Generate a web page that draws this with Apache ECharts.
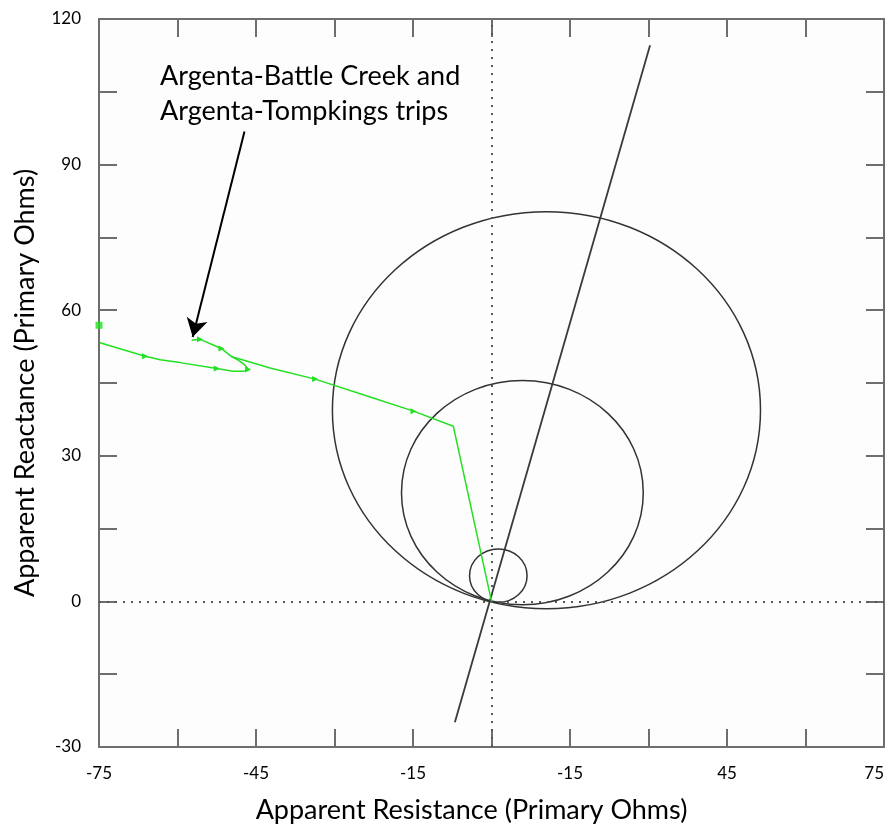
<!DOCTYPE html>
<html>
<head>
<meta charset="utf-8">
<script src="https://cdn.jsdelivr.net/npm/echarts@6/dist/echarts.min.js"></script>
<style>
html,body{margin:0;padding:0;background:#fff;}
#chart{width:888px;height:829px;}
</style>
</head>
<body>
<div id="chart"></div>
<script>
// ---- data ----
const xTickValues = [-75, -45, -15, 15, 45, 75];
const xTickLabels = ['-75', '-45', '-15', '-15', '45', '75'];
const yTickValues = [-30, 0, 30, 60, 90, 120];
const yTickLabels = ['-30', '0', '30', '60', '90', '120'];

// characteristic circles (center R, center X, radius)
const circleCx = [10.5, 5.9, 1.3];
const circleCy = [39.4, 22.4, 5.3];
const circleR  = [40.9, 23.1, 5.5];

// line-angle line
const angleLineX = [-7.0, 30.3];
const angleLineY = [-24.9, 114.6];

// trajectory A (left loop)
const trajAX = [-74.8, -66.2, -63.3, -59.5, -52.5, -49.4, -47.4, -46.5, -47.1, -48.4, -49.6, -51.6, -55.7, -57.3];
const trajAY = [53.3, 50.5, 49.8, 49.2, 48.0, 47.4, 47.4, 47.8, 48.7, 49.7, 50.4, 52.1, 54.0, 53.8];
// trajectory B (from origin)
const trajBX = [0.0, -7.3, -14.9, -22.9, -33.7, -42.3, -49.6];
const trajBY = [0.0, 36.1, 39.2, 42.0, 45.8, 48.1, 50.4];
// points at left edge
const edgeX = [-75.0, -75.1];
const edgeY = [56.9, 55.3];

const annotationLines = ['Argenta-Battle Creek and', 'Argenta-Tompkings trips'];
const annotationArrowFrom = [-47.2, 96.8];
const annotationArrowTo = [-57.1, 54.5];

// ---- chart ----
const FONT = 'Lato, "Open Sans", sans-serif';
const AX = '#6e6e6e';
const chart = echarts.init(document.getElementById('chart'), null, {renderer: 'canvas'});

function zip(xs, ys) { return xs.map((x, i) => [x, ys[i]]); }
function labelFor(vals, labels) {
  return function (v) {
    const i = vals.findIndex(t => Math.abs(t - v) < 1e-6);
    return i >= 0 ? labels[i] : '';
  };
}

const arrowA = [1, 4, 7, 11, 12];
const arrowB = [2, 4];
function withArrows(pts, idx) {
  return pts.map((p, i) => idx.indexOf(i) >= 0
    ? {value: p, symbol: 'triangle', symbolSize: 6, symbolRotate: -90}
    : {value: p, symbol: 'none'});
}

const baseX = {
  type: 'value', min: -75, max: 75, interval: 15,
  splitLine: {show: false},
  axisLine: {show: true, onZero: false, lineStyle: {color: AX, width: 2}},
  axisTick: {show: true, inside: true, length: 18, lineStyle: {color: AX, width: 2}}
};
const baseY = {
  type: 'value', min: -30, max: 120, interval: 15,
  splitLine: {show: false},
  axisLine: {show: true, onZero: false, lineStyle: {color: AX, width: 2}},
  axisTick: {show: true, inside: true, length: 18, lineStyle: {color: AX, width: 2}}
};

chart.setOption({
  animation: false,
  backgroundColor: '#ffffff',
  grid: {left: 99, right: 4, top: 19, bottom: 82, show: true, backgroundColor: '#fdfdfd', borderWidth: 0,
         containLabel: false, outerBoundsMode: 'none'},
  xAxis: [
    Object.assign({}, baseX, {
      position: 'bottom',
      name: 'Apparent Resistance (Primary Ohms)', nameLocation: 'middle', nameGap: 50,
      nameTextStyle: {fontFamily: FONT, fontSize: 27, color: '#000', padding: [0, 40, 0, 0]},
      axisLabel: {show: true, margin: 18, fontFamily: FONT, fontSize: 17, color: '#000',
                  formatter: labelFor(xTickValues, xTickLabels), showMinLabel: true, showMaxLabel: true,
                  alignMaxLabel: 'right'}
    }),
    Object.assign({}, baseX, {position: 'top', axisLabel: {show: false}})
  ],
  yAxis: [
    Object.assign({}, baseY, {
      position: 'left',
      name: 'Apparent Reactance (Primary Ohms)', nameLocation: 'middle', nameGap: 60,
      nameTextStyle: {fontFamily: FONT, fontSize: 27, color: '#000'},
      axisLabel: {show: true, margin: 18, fontFamily: FONT, fontSize: 17, color: '#000',
                  formatter: labelFor(yTickValues, yTickLabels), showMinLabel: true, showMaxLabel: true}
    }),
    Object.assign({}, baseY, {position: 'right', axisLabel: {show: false}})
  ],
  graphic: [{
    type: 'text', left: 160, top: 59, z: 100,
    style: {text: annotationLines.join('\n'), fontFamily: FONT, fontSize: 27, lineHeight: 35, fill: '#000'}
  }],
  series: [
    {
      type: 'line', name: 'axes', silent: true, symbol: 'none', data: [],
      markLine: {
        silent: true, symbol: 'none', label: {show: false}, animation: false,
        lineStyle: {color: '#555', type: [2, 6], width: 2},
        data: [{xAxis: 0}, {yAxis: 0}]
      }
    },
    {
      type: 'custom', name: 'circles', silent: true,
      data: circleCx.map((c, i) => [c, circleCy[i], circleR[i]]),
      encode: {x: 0, y: 1},
      renderItem: function (params, api) {
        const c = api.coord([api.value(0), api.value(1)]);
        const s = api.size([api.value(2), api.value(2)]);
        return {
          type: 'ellipse',
          shape: {cx: c[0], cy: c[1], rx: s[0], ry: s[1]},
          style: {fill: 'none', stroke: '#333', lineWidth: 1.5}
        };
      }
    },
    {
      type: 'line', name: 'angle', symbol: 'none', silent: true,
      data: zip(angleLineX, angleLineY),
      lineStyle: {color: '#3a3a3a', width: 1.8}
    },
    {
      type: 'line', name: 'trajA', silent: true,
      data: withArrows(zip(trajAX, trajAY), arrowA),
      lineStyle: {color: '#22e022', width: 1.5},
      itemStyle: {color: '#22e022'}
    },
    {
      type: 'line', name: 'trajB', silent: true,
      data: withArrows(zip(trajBX, trajBY), arrowB),
      lineStyle: {color: '#22e022', width: 1.5},
      itemStyle: {color: '#22e022'}
    },
    {
      type: 'scatter', name: 'edge', silent: true,
      data: zip(edgeX, edgeY),
      symbol: 'rect', symbolSize: 7,
      itemStyle: {color: '#22e022'}
    },
    {
      type: 'line', name: 'annot', silent: true, symbol: 'none', data: [],
      markLine: {
        silent: true, label: {show: false}, animation: false,
        symbol: ['none', 'arrow'], symbolSize: [16, 18],
        lineStyle: {color: '#000', type: 'solid', width: 2},
        data: [[{coord: annotationArrowFrom}, {coord: annotationArrowTo}]]
      }
    }
  ]
});
</script>
</body>
</html>
